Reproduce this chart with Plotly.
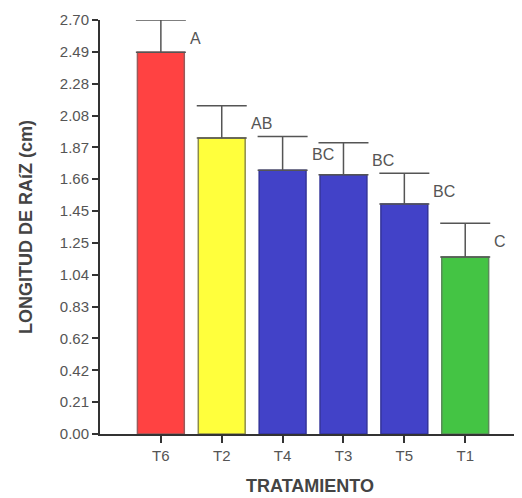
import plotly.graph_objects as go

categories = ["T6", "T2", "T4", "T3", "T5", "T1"]
means = [2.49, 1.93, 1.72, 1.69, 1.50, 1.155]
errors = [0.21, 0.21, 0.22, 0.21, 0.20, 0.22]
letters = ["A", "AB", "BC", "BC", "BC", "C"]
bar_colors = ["#ff4242", "#ffff3c", "#4242c8", "#4242c8", "#4242c8", "#44c444"]
line_colors = ["#9a5a5a", "#8c8c48", "#34349a", "#34349a", "#34349a", "#5a8a5a"]
y_tickvals = [i * 2.7 / 13 for i in range(14)]
y_ticktext = ["0.00", "0.21", "0.42", "0.62", "0.83", "1.04", "1.25", "1.45",
              "1.66", "1.87", "2.08", "2.28", "2.49", "2.70"]

fig = go.Figure()
fig.add_trace(go.Bar(
    x=list(range(len(categories))), y=means,
    marker=dict(color=bar_colors, line=dict(color=line_colors, width=1.5)),
    width=0.77,
    error_y=dict(type="data", array=errors, arrayminus=[0]*len(errors), symmetric=False,
                 color="#555555", thickness=1.5, width=25),
))

for i, (m, e, l) in enumerate(zip(means, errors, letters)):
    fig.add_annotation(x=i, y=m + e, text=l, showarrow=False, xanchor="left",
                       yanchor="middle", xshift=27, yshift=-18,
                       font=dict(family="Arial, Liberation Sans", size=16, color="#555555"))

fig.update_layout(
    width=514, height=490,
    margin=dict(l=92, r=2, t=12, b=64, autoexpand=False),
    plot_bgcolor="white", paper_bgcolor="white",
    showlegend=False,
    font=dict(family="Arial, Liberation Sans", color="#555555"),
)
fig.update_xaxes(
    range=[-1, 5.9], tickvals=list(range(len(categories))), ticktext=categories,
    showline=True, linecolor="#333333", linewidth=2, ticks="outside", ticklen=7,
    tickcolor="#333333", tickwidth=2, showgrid=False, zeroline=False,
    tickfont=dict(size=15, color="#555555"),
    title=dict(text="<b>TRATAMIENTO</b>", font=dict(size=18, color="#444444"), standoff=16),
)
fig.update_yaxes(
    range=[0, 2.7], tickvals=y_tickvals, ticktext=y_ticktext,
    showline=True, linecolor="#333333", linewidth=2, ticks="outside", ticklen=6,
    tickcolor="#333333", tickwidth=2, showgrid=False, zeroline=False,
    tickfont=dict(size=15, color="#555555"),
    title=dict(text="<b>LONGITUD DE RAíZ (cm)</b>", font=dict(size=18, color="#444444"), standoff=22),
)

fig.write_html("out.html")
